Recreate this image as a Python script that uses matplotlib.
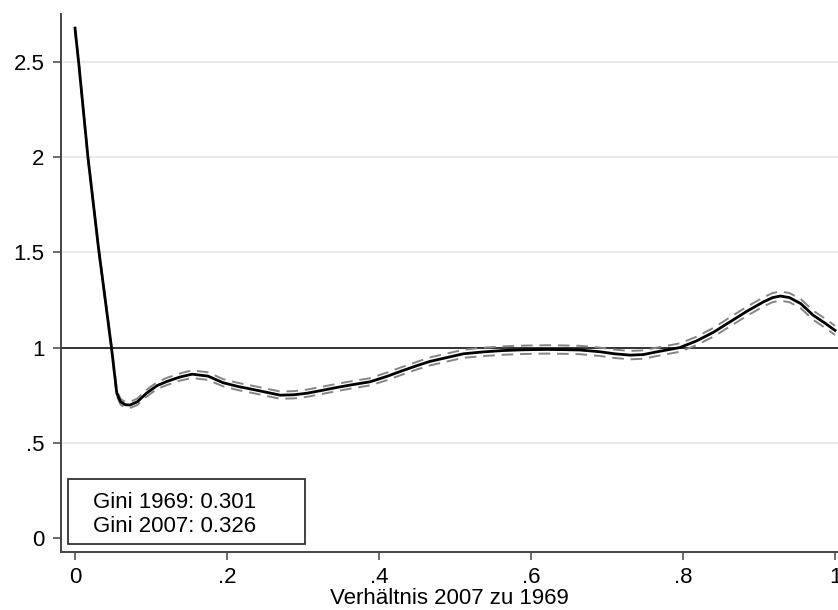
import matplotlib
matplotlib.use('Agg')
import matplotlib.pyplot as plt
from matplotlib.patches import Rectangle

plt.rcParams['font.family'] = ['Liberation Sans', 'DejaVu Sans']

# relative density ratio
ratio_x = [0.000, 0.005, 0.017, 0.031, 0.048, 0.055, 0.060, 0.066, 0.072, 0.082,
           0.094, 0.108, 0.121, 0.138, 0.154, 0.175, 0.195, 0.215, 0.234, 0.252,
           0.270, 0.288, 0.305, 0.325, 0.344, 0.365, 0.388, 0.410, 0.432, 0.450,
           0.467, 0.490, 0.511, 0.537, 0.563, 0.590, 0.620, 0.640, 0.664, 0.690,
           0.710, 0.730, 0.748, 0.765, 0.780, 0.796, 0.818, 0.840, 0.862, 0.884,
           0.906, 0.918, 0.928, 0.940, 0.955, 0.971, 0.986, 1.000]
ratio_y = [2.675, 2.490, 2.000, 1.520, 1.000, 0.760, 0.715, 0.700, 0.698, 0.715,
           0.760, 0.800, 0.822, 0.845, 0.860, 0.850, 0.815, 0.795, 0.780, 0.765,
           0.750, 0.752, 0.760, 0.775, 0.790, 0.805, 0.820, 0.848, 0.880, 0.905,
           0.927, 0.948, 0.967, 0.977, 0.984, 0.988, 0.990, 0.989, 0.987, 0.978,
           0.967, 0.960, 0.963, 0.977, 0.988, 1.000, 1.035, 1.080, 1.135, 1.190,
           1.240, 1.262, 1.270, 1.262, 1.230, 1.170, 1.130, 1.090]
ci_lower = [2.665, 2.480, 1.990, 1.510, 0.990, 0.745, 0.700, 0.685, 0.682, 0.698,
            0.742, 0.782, 0.803, 0.826, 0.840, 0.830, 0.796, 0.776, 0.761, 0.746,
            0.731, 0.733, 0.741, 0.756, 0.771, 0.786, 0.801, 0.828, 0.860, 0.885,
            0.906, 0.927, 0.946, 0.955, 0.962, 0.966, 0.968, 0.967, 0.965, 0.956,
            0.945, 0.938, 0.941, 0.955, 0.966, 0.978, 1.013, 1.057, 1.111, 1.166,
            1.216, 1.238, 1.246, 1.238, 1.206, 1.146, 1.106, 1.066]
ci_upper = [2.685, 2.500, 2.010, 1.530, 1.010, 0.775, 0.730, 0.715, 0.714, 0.732,
            0.778, 0.818, 0.841, 0.864, 0.880, 0.870, 0.834, 0.814, 0.799, 0.784,
            0.769, 0.771, 0.779, 0.794, 0.809, 0.824, 0.839, 0.868, 0.900, 0.925,
            0.948, 0.969, 0.988, 0.999, 1.006, 1.010, 1.012, 1.011, 1.009, 1.000,
            0.989, 0.982, 0.985, 0.999, 1.010, 1.022, 1.057, 1.103, 1.159, 1.214,
            1.264, 1.286, 1.294, 1.286, 1.254, 1.194, 1.154, 1.114]

x_ticks = [0, 0.2, 0.4, 0.6, 0.8, 1.0]
x_labels = ['0', '.2', '.4', '.6', '.8', '1']
y_ticks = [0, 0.5, 1, 1.5, 2, 2.5]
y_labels = ['0', '.5', '1', '1.5', '2', '2.5']
gini_lines = ['Gini 1969: 0.301', 'Gini 2007: 0.326']

FS = 16
W, H = 838, 610
fig = plt.figure(figsize=(W / 100, H / 100), dpi=100)
ax = fig.add_axes([61 / W, 1 - 552 / H, 1 - 61 / W, (552 - 14) / H])

ax.set_xlim(-0.0184, 1.0039)
ax.set_ylim(-0.073, 2.75)

for yv in y_ticks:
    if yv not in (0, 1):
        ax.axhline(yv, color='#e8e8e8', lw=1.3, zorder=0)
ax.axhline(1, color='#333333', lw=1.4, zorder=1)

ax.plot(ratio_x, ci_lower, color='#858585', lw=1.4, dashes=(6, 3.5), zorder=2)
ax.plot(ratio_x, ci_upper, color='#858585', lw=1.4, dashes=(6, 3.5), zorder=2)
ax.plot(ratio_x, ratio_y, color='black', lw=2.0, zorder=3)

ax.set_xticks(x_ticks)
ax.set_xticklabels(x_labels)
ax.set_yticks(y_ticks)
ax.set_yticklabels(y_labels)
ax.tick_params(axis='both', direction='out', length=6, width=1.1,
               color='#444444', labelsize=FS, pad=5)
ax.tick_params(axis='y', pad=6)

for side in ('top', 'right'):
    ax.spines[side].set_visible(False)
for side in ('left', 'bottom'):
    ax.spines[side].set_color('#444444')
    ax.spines[side].set_linewidth(1.4)

ax.set_xlabel('Verhältnis 2007 zu 1969', fontsize=FS, labelpad=0)

# text box with the Gini values
fig.patches.append(Rectangle((68 / W, 1 - 544 / H), (305 - 68) / W, (544 - 479) / H,
                             transform=fig.transFigure, facecolor='white',
                             edgecolor='#333333', lw=1.3, zorder=5))
fig.text(93 / W, 1 - 508 / H, gini_lines[0], fontsize=FS, va='baseline', zorder=6)
fig.text(93 / W, 1 - 531.5 / H, gini_lines[1], fontsize=FS, va='baseline', zorder=6)

fig.savefig('out.png', dpi=100)
